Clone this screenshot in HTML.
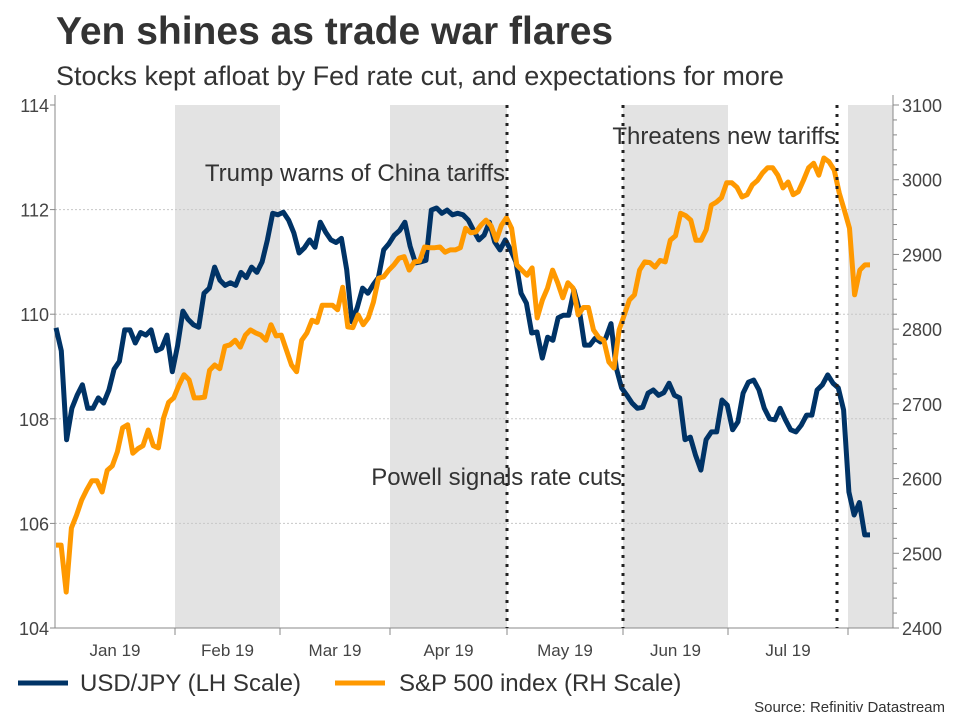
<!DOCTYPE html>
<html><head><meta charset="utf-8">
<style>
body{margin:0;background:#fff;font-family:"Liberation Sans",sans-serif;}
#wrap{position:relative;width:960px;height:720px;overflow:hidden;}
</style></head>
<body>
<div id="wrap">
<svg id="chart" width="960" height="720" xmlns="http://www.w3.org/2000/svg">
<text x="56" y="44" font-size="39" font-weight="bold" fill="#333">Yen shines as trade war flares</text>
<text x="56" y="85" font-size="27" fill="#333">Stocks kept afloat by Fed rate cut, and expectations for more</text>
<g id="shades"></g><g id="grid"></g><g id="axes"></g><g id="series"></g><g id="annot"></g>
<g>
<line x1="18" y1="683" x2="68" y2="683" stroke="#003366" stroke-width="5"/>
<text x="80" y="691" font-size="24" fill="#333">USD/JPY (LH Scale)</text>
<line x1="335" y1="683" x2="385" y2="683" stroke="#ff9900" stroke-width="5"/>
<text x="399" y="691" font-size="24" fill="#333">S&amp;P 500 index (RH Scale)</text>
</g>
<text x="945" y="712" font-size="15" fill="#333" text-anchor="end">Source: Refinitiv Datastream</text>
</svg>
</div>
<script>
const usdjpy=[109.74,109.3,107.6,108.2,108.45,108.65,108.2,108.2,108.4,108.3,108.55,108.95,109.1,109.7,109.7,109.45,109.65,109.6,109.7,109.3,109.35,109.6,108.9,109.4,110.06,109.9,109.8,109.75,110.4,110.5,110.9,110.65,110.55,110.6,110.55,110.8,110.7,110.9,110.8,111.0,111.42,111.93,111.9,111.95,111.8,111.55,111.17,111.27,111.42,111.28,111.76,111.57,111.42,111.37,111.45,110.85,109.85,110.13,110.5,110.4,110.56,110.7,111.23,111.35,111.51,111.6,111.76,111.3,110.98,111.0,111.03,111.99,112.03,111.93,111.99,111.9,111.93,111.9,111.8,111.6,111.42,111.51,111.76,111.38,111.23,111.42,111.23,111.0,110.4,110.21,109.64,109.66,109.16,109.56,109.5,109.93,109.98,109.98,110.46,110.08,109.41,109.41,109.54,109.47,109.54,109.82,108.97,108.59,108.45,108.3,108.2,108.22,108.49,108.55,108.45,108.5,108.68,108.45,108.4,107.6,107.65,107.3,107.02,107.6,107.75,107.75,108.36,108.26,107.79,107.94,108.49,108.7,108.74,108.55,108.2,108.0,107.98,108.2,107.98,107.79,107.75,107.88,108.07,108.07,108.55,108.65,108.84,108.68,108.59,108.17,106.6,106.16,106.4,105.78,105.78];
const sp500=[2511,2511,2448,2534,2551,2571,2585,2597,2597,2582,2611,2617,2636,2668,2672,2634,2640,2644,2665,2644,2641,2681,2702,2708,2725,2739,2732,2708,2708,2709,2745,2752,2747,2777,2779,2785,2776,2792,2799,2795,2792,2785,2806,2791,2792,2772,2752,2743,2785,2795,2812,2809,2832,2832,2832,2826,2856,2803,2802,2819,2806,2815,2836,2868,2870,2879,2886,2895,2897,2879,2890,2891,2910,2909,2909,2910,2903,2906,2906,2909,2935,2929,2930,2939,2946,2938,2919,2939,2949,2935,2886,2879,2872,2882,2815,2839,2855,2879,2862,2842,2862,2855,2819,2829,2829,2799,2789,2785,2756,2748,2799,2819,2839,2846,2879,2890,2889,2883,2892,2890,2919,2925,2955,2952,2946,2919,2919,2933,2966,2970,2976,2996,2996,2990,2977,2980,2993,2999,3009,3016,3016,3006,2989,2997,2980,2984,2999,3016,3022,3006,3029,3024,3013,2982,2959,2935,2846,2879,2886,2886];
const leftTicks=[104,106,108,110,112,114];
const rightTicks=[2400,2500,2600,2700,2800,2900,3000,3100];
const monthLabels=["Jan 19","Feb 19","Mar 19","Apr 19","May 19","Jun 19","Jul 19"];
const eventLabels=["Trump warns of China tariffs","Powell signals rate cuts","Threatens new tariffs"];

const NS="http://www.w3.org/2000/svg";
const X0=55,X1=893,Y0=105,Y1=628,XA=56,XB=870;
const yL=v=>Y1-(v-104)/(114-104)*(Y1-Y0);
const yR=v=>Y1-(v-2400)/(3100-2400)*(Y1-Y0);
const xi=(i,n)=>XA+i*(XB-XA)/(n-1);
function mk(tag,attrs,parent){const e=document.createElementNS(NS,tag);for(const k in attrs)e.setAttribute(k,attrs[k]);parent.appendChild(e);return e;}
const G=id=>document.getElementById(id);

const bounds=[55,175,280,390,507,623,728,848,893];
[[1,2],[3,4],[5,6],[7,8]].forEach((p,k)=>{
  const r=mk('rect',{x:bounds[p[0]],y:Y0,width:bounds[p[1]]-bounds[p[0]],height:Y1-Y0,fill:'#e3e3e3'},G('shades'));
  
  
});
leftTicks.forEach(v=>{
  const y=yL(v);
  if(v>104&&v<114){const l=mk('line',{x1:X0,x2:X1,y1:y,y2:y,stroke:'#c8c8c8','stroke-dasharray':'2,2'},G('grid'));
  
  }
  const t=mk('text',{x:X0-6,y:y+7,'font-size':18,fill:'#444','text-anchor':'end'},G('axes'));t.textContent=v;
  
  
  mk('line',{x1:X0-5,x2:X0,y1:y,y2:y,stroke:'#888'},G('axes'));
});
for(let v=2400;v<=3100;v+=20){const y=yR(v);mk('line',{x1:X1,x2:X1+(v%100===0?6:4),y1:y,y2:y,stroke:'#888'},G('axes'));}
rightTicks.forEach(v=>{
  const t=mk('text',{x:X1+9,y:yR(v)+7,'font-size':18,fill:'#444'},G('axes'));t.textContent=v;
  
  
});
mk('line',{x1:X0,x2:X0,y1:Y0-10,y2:Y1,stroke:'#888'},G('axes'));
mk('line',{x1:X1,x2:X1,y1:Y0-10,y2:Y1,stroke:'#888'},G('axes'));
mk('line',{x1:X0,x2:X1,y1:Y1,y2:Y1,stroke:'#888'},G('axes'));
bounds.slice(1,8).forEach(b=>mk('line',{x1:b,x2:b,y1:Y1,y2:Y1+7,stroke:'#888'},G('axes')));
monthLabels.forEach((m,k)=>{
  const t=mk('text',{x:(bounds[k]+bounds[k+1])/2,y:656,'font-size':17,fill:'#444','text-anchor':'middle'},G('axes'));t.textContent=m;
  
  
});
[507,623,837].forEach(x=>{const l=mk('line',{x1:x,x2:x,y1:Y0,y2:Y1,stroke:'#222','stroke-width':3,'stroke-dasharray':'3,6'},G('annot'));
  
  });
[[505,181,'end'],[622,485,'end'],[836,144,'end']].forEach((p,k)=>{
  const t=mk('text',{x:p[0],y:p[1],'font-size':24,fill:'#333','text-anchor':p[2]},G('annot'));t.textContent=eventLabels[k];
  
  
});
function line(arr,fy,color,name){
  const d=arr.map((v,i)=>(i?'L':'M')+xi(i,arr.length).toFixed(1)+','+fy(v).toFixed(1)).join('');
  const p=mk('path',{d:d,fill:'none',stroke:color,'stroke-width':5,'stroke-linejoin':'round'},G('series'));
  
  
}
line(usdjpy,yL,'#003366','usdjpy-line');
line(sp500,yR,'#ff9900','sp500-line');
</script>
</body></html>
